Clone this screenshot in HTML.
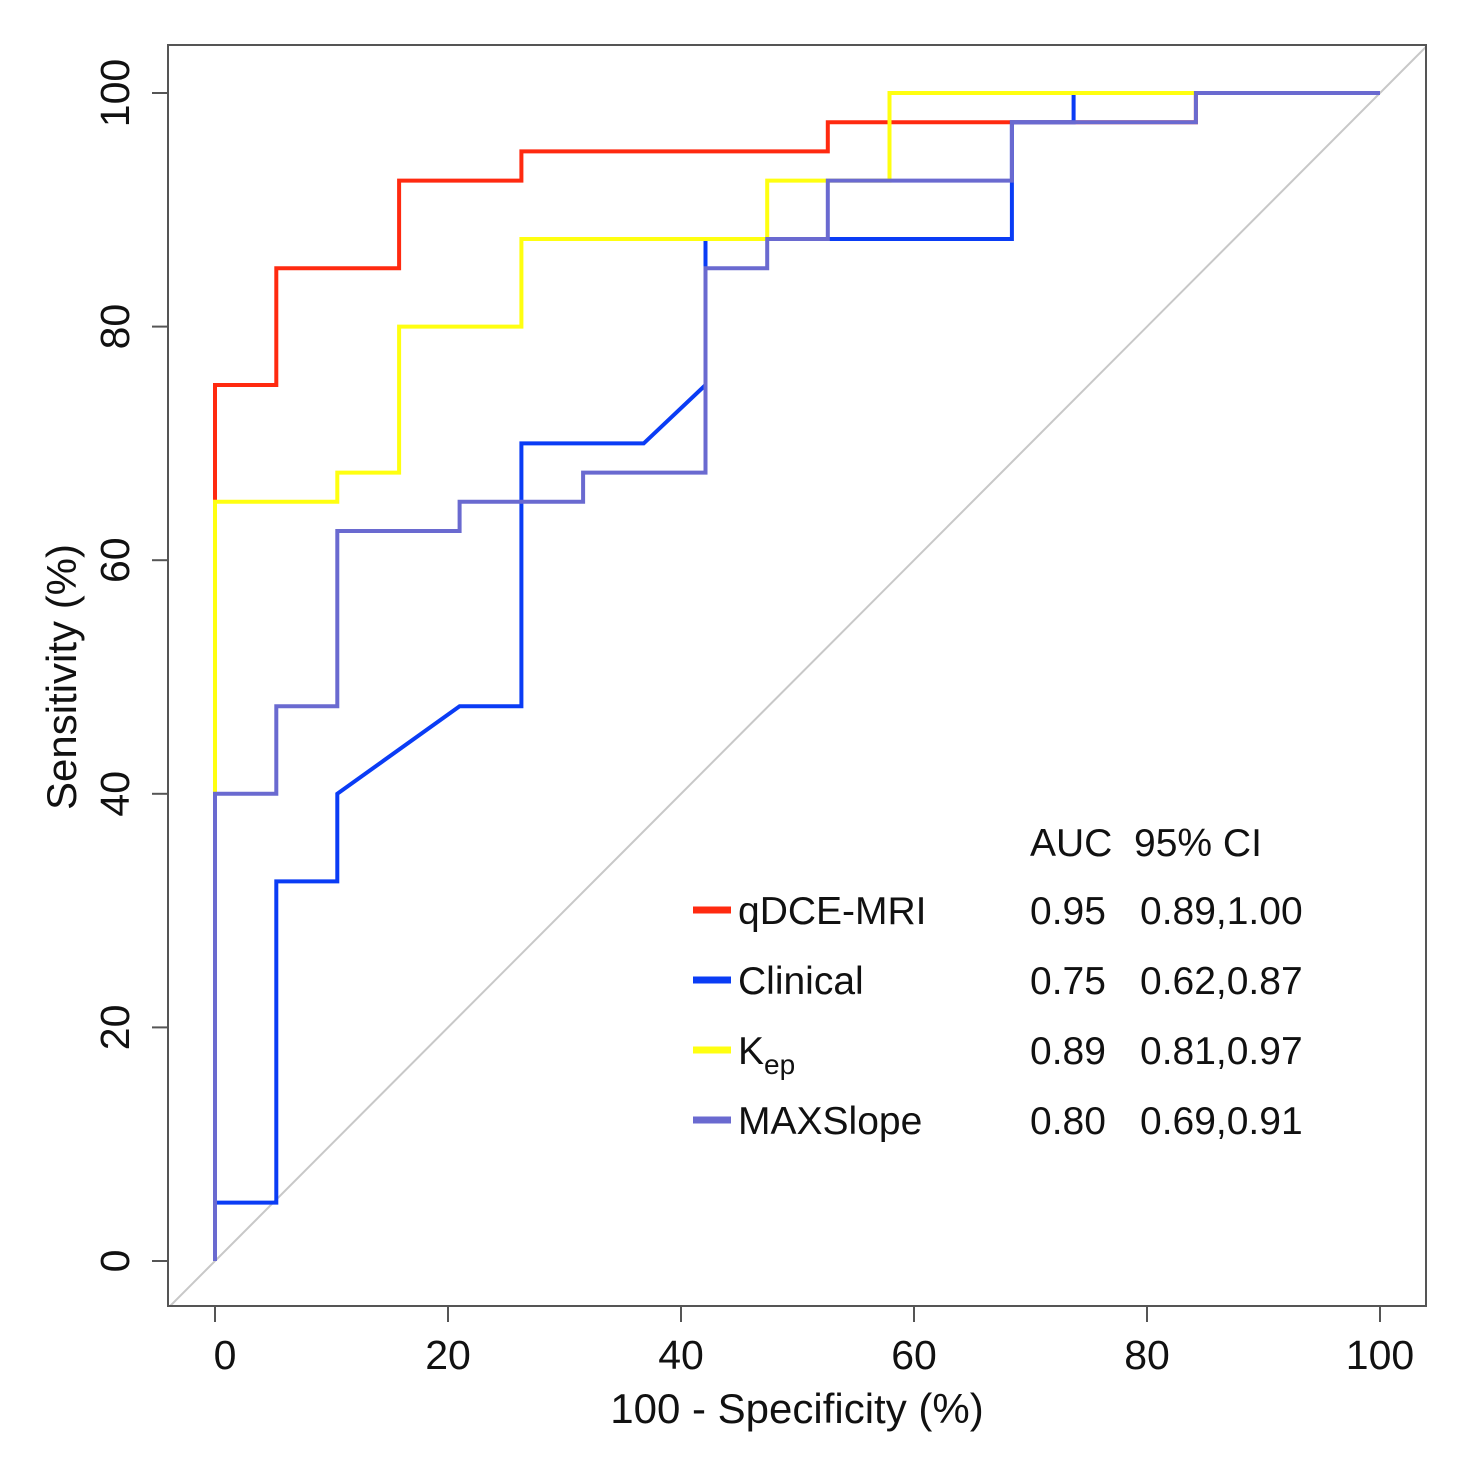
<!DOCTYPE html>
<html><head><meta charset="utf-8"><style>
html,body{margin:0;padding:0;background:#fff;}
svg{display:block;font-family:"Liberation Sans",sans-serif;}
</style></head><body>
<svg id="chart" width="1472" height="1472" viewBox="0 0 1472 1472"></svg>
<script>
const xTicks=[0,20,40,60,80,100];
const yTicks=[0,20,40,60,80,100];
const seriesNames=["qDCE-MRI","Clinical","Kep","MAXSlope"];
const seriesColors=["#ff2a10","#0a3cf5","#ffff10","#6a6ad0"];
const aucValues=["0.95","0.75","0.89","0.80"];
const ciValues=["0.89,1.00","0.62,0.87","0.81,0.97","0.69,0.91"];
const redX=[0,0,5.26,5.26,15.8,15.8,26.3,26.3,52.6,52.6,84.2,84.2,100];
const redY=[0,75,75,85,85,92.5,92.5,95,95,97.5,97.5,100,100];
const yellowX=[0,0,0,10.5,10.5,15.8,15.8,26.3,26.3,47.4,47.4,57.9,57.9,100];
const yellowY=[0,40,65,65,67.5,67.5,80,80,87.5,87.5,92.5,92.5,100,100];
const blueX=[0,0,5.26,5.26,10.5,10.5,21,26.3,26.3,36.8,42.1,42.1,68.4,68.4,73.7,73.7,100];
const blueY=[0,5,5,32.5,32.5,40,47.5,47.5,70,70,75,87.5,87.5,97.5,97.5,100,100];
const purpleX=[0,0,5.26,5.26,10.5,10.5,21,21,31.6,31.6,42.1,42.1,47.4,47.4,52.6,52.6,68.4,68.4,84.2,84.2,100];
const purpleY=[0,40,40,47.5,47.5,62.5,62.5,65,65,67.5,67.5,85,85,87.5,87.5,92.5,92.5,97.5,97.5,100,100];

const NS="http://www.w3.org/2000/svg";
const svg=document.getElementById('chart');
const sx=v=>215+v*11.65;
const sy=v=>1261-v*11.68;
const box={l:168,t:45,r:1426,b:1306};
function mk(tag,attrs,parent){const e=document.createElementNS(NS,tag);for(const k in attrs)e.setAttribute(k,attrs[k]);(parent||svg).appendChild(e);return e;}

const clip=mk('clipPath',{id:'pc'});mk('rect',{x:box.l,y:box.t,width:box.r-box.l,height:box.b-box.t},clip);
const xmin=(box.l-215)/11.65, xmax=(box.r-215)/11.65;
const diag=mk('line',{x1:sx(xmin),y1:sy(xmin),x2:sx(xmax),y2:sy(xmax),stroke:'#c8c8c8','stroke-width':2,'clip-path':'url(#pc)'});



const order=[[redX,redY,0],[blueX,blueY,1],[yellowX,yellowY,2],[purpleX,purpleY,3]];
order.forEach(([xs,ys,i])=>{
  const d=xs.map((x,j)=>(j?'L':'M')+sx(x).toFixed(1)+','+sy(ys[j]).toFixed(1)).join(' ');
  const p=mk('path',{d:d,fill:'none',stroke:seriesColors[i],'stroke-width':4,'stroke-linejoin':'miter'});
  
  
});

const b=mk('rect',{x:box.l,y:box.t,width:box.r-box.l,height:box.b-box.t,fill:'none',stroke:'#555','stroke-width':2});



xTicks.forEach(v=>{
  const t=mk('line',{x1:sx(v),x2:sx(v),y1:box.b,y2:box.b+16,stroke:'#555','stroke-width':2});
  
  
  const l=mk('text',{x:sx(v)+(v===0?10:0),y:1369,'text-anchor':'middle','font-size':41,fill:'#111'});
  l.textContent=v;
  
  
});
yTicks.forEach(v=>{
  const t=mk('line',{x1:box.l-16,x2:box.l,y1:sy(v),y2:sy(v),stroke:'#555','stroke-width':2});
  
  
  const l=mk('text',{x:0,y:0,'text-anchor':'middle','font-size':41,fill:'#111',transform:`translate(129,${sy(v)}) rotate(-90)`});
  l.textContent=v;
  
  
});
const xt=mk('text',{x:797,y:1423,'text-anchor':'middle','font-size':42,fill:'#111'});
xt.textContent='100 - Specificity (%)';


const yt=mk('text',{x:0,y:0,'text-anchor':'middle','font-size':42,fill:'#111',transform:'translate(76,677) rotate(-90)'});
yt.textContent='Sensitivity (%)';



const hd=mk('text',{x:1030,y:856,'font-size':39,fill:'#111',style:'white-space:pre'});
hd.textContent='AUC  95% CI';


seriesNames.forEach((n,i)=>{
  const y=910+i*70;
  const g=mk('g',{});
  
  
  mk('line',{x1:693,x2:731,y1:y,y2:y,stroke:seriesColors[i],'stroke-width':7},g);
  const t=mk('text',{x:738,y:y+14,'font-size':39,fill:'#111'},g);
  if(n==='Kep'){t.textContent='K';const s=mk('tspan',{'font-size':28,dy:10},t);s.textContent='ep';}
  else t.textContent=n;
  const a=mk('text',{x:1030,y:y+14,'font-size':39,fill:'#111'},g);a.textContent=aucValues[i];
  const c=mk('text',{x:1140,y:y+14,'font-size':39,fill:'#111'},g);c.textContent=ciValues[i];
});
</script>
</body></html>
